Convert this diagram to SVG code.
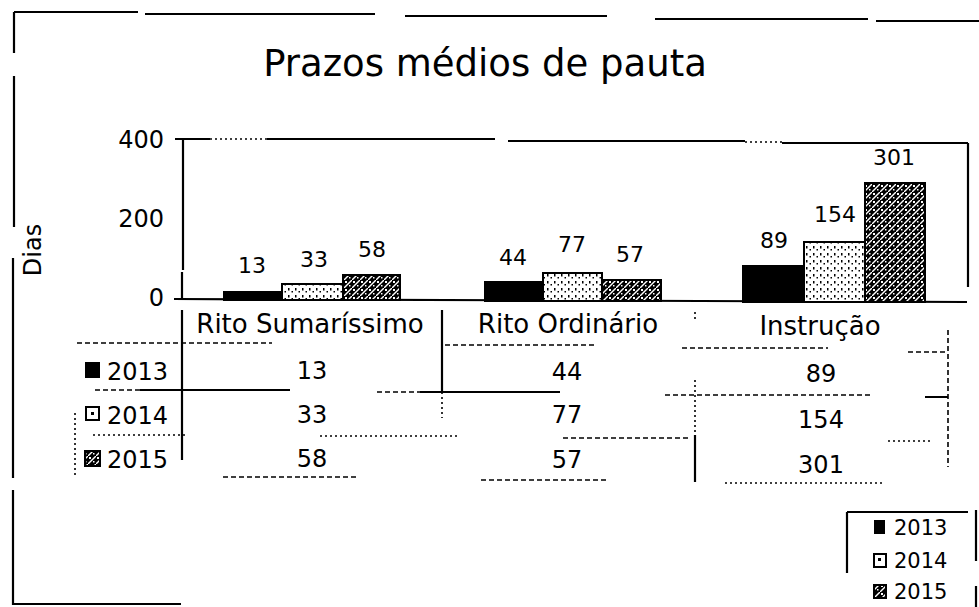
<svg xmlns="http://www.w3.org/2000/svg" width="979" height="607" viewBox="0 0 979 607">
<style>
text{font-family:"DejaVu Sans","Verdana",sans-serif;fill:#000}
.t{font-size:37px}
.ax{font-size:24px;text-anchor:end}
.v{font-size:22px;text-anchor:middle}
.h{font-size:26px;text-anchor:middle}
.c{font-size:24px;text-anchor:middle}
.r{font-size:24px}
.lg{font-size:21px}
.s{stroke:#000;stroke-width:2.2;fill:none}
.d{stroke:#000;stroke-width:1.6;fill:none;stroke-dasharray:5 3}
.o{stroke:#000;stroke-width:1.6;fill:none;stroke-dasharray:2 3}
.b13{fill:#000;stroke:#000;stroke-width:2}
.b14{fill:url(#p14);stroke:#000;stroke-width:2}
.b15{fill:url(#p15);stroke:#000;stroke-width:2}
</style>
<defs>
<pattern id="p14" width="7" height="7" patternUnits="userSpaceOnUse">
<rect width="7" height="7" fill="#fff"/>
<rect x="1" y="1" width="1.5" height="2.5" fill="#000"/>
<rect x="4.5" y="4" width="1.5" height="1.5" fill="#000"/>
</pattern>
<pattern id="p15" width="8" height="8" patternUnits="userSpaceOnUse">
<rect width="8" height="8" fill="#000"/>
<path d="M0 8 L8 0" stroke="#fff" stroke-width="1.4"/>
<rect x="1" y="1" width="2" height="2" fill="#fff"/>
<rect x="5" y="5" width="1.5" height="1.5" fill="#fff"/>
</pattern>
</defs>
<rect width="979" height="607" fill="#fff"/>

<g id="frame">
<path class="s" d="M14 12 H138 M145 14 H375 M405 16 H607 M655 19 H868 M876 21 H979"/>
<path class="s" d="M14 12 V53 M14 76 V227 M13 258 V478 M13 490 V605 M13 604 H181"/>
</g>

<text class="t" x="485" y="76" text-anchor="middle">Prazos médios de pauta</text>

<g id="axes">
<path class="s" d="M183 139 H210 M267 139 H495 M508 141 H745 M782 143 H968 M968 143 V287"/>
<path class="o" d="M210 139 H267 M745 142 H782"/>
<path class="s" d="M175 139 H183 M183 139 V270 M182 272 V300 M174 299 L967 302"/>
<text class="ax" x="164" y="148">400</text>
<text class="ax" x="164" y="227">200</text>
<text class="ax" x="164" y="306">0</text>
<text class="r" transform="translate(41 250) rotate(-90)" text-anchor="middle">Dias</text>
</g>

<g id="bars">
<rect class="b13" x="224" y="292" width="58" height="8"/>
<rect class="b14" x="282" y="284" width="61" height="16"/>
<rect class="b15" x="343" y="275" width="57" height="25"/>
<rect class="b13" x="485" y="282" width="58" height="19"/>
<rect class="b14" x="543" y="273" width="59" height="28"/>
<rect class="b15" x="602" y="280" width="59" height="21"/>
<rect class="b13" x="743" y="266" width="61" height="36"/>
<rect class="b14" x="804" y="242" width="61" height="60"/>
<rect class="b15" x="865" y="183" width="60" height="119"/>
</g>

<g id="values">
<text class="v" x="252" y="273">13</text>
<text class="v" x="314" y="267">33</text>
<text class="v" x="372" y="257">58</text>
<text class="v" x="513" y="265">44</text>
<text class="v" x="572" y="252">77</text>
<text class="v" x="630" y="262">57</text>
<text class="v" x="774" y="248">89</text>
<text class="v" x="835" y="222">154</text>
<text class="v" x="894" y="165">301</text>
</g>

<g id="table">
<path class="s" d="M182 310 V460 M442 310 V392 M695 435 V482 M140 390 H290 M420 392 H560 M925 397 H948"/>
<path class="o" d="M442 392 V418 M695 312 V322 M695 380 V435 M75 413 V475"/>
<path class="d" d="M948 330 V467"/>
<path class="d" d="M77 343 H272 M445 345 H595 M682 348 H828 M908 352 H948"/>
<path class="d" d="M95 390 H140 M377 392 H420 M665 395 H870"/>
<path class="o" d="M93 435 H187 M320 436 H458 M888 441 H930 M725 483 H884"/>
<path class="d" d="M563 438 H688 M223 477 H357 M481 480 H609"/>
<text class="h" x="310" y="333">Rito Sumaríssimo</text>
<text class="h" x="568" y="333">Rito Ordinário</text>
<text class="h" x="820" y="335">Instrução</text>
<rect x="85" y="362" width="15" height="16" fill="#000"/>
<text class="r" x="107" y="380">2013</text>
<rect x="86" y="407" width="13" height="13" fill="#fff" stroke="#000" stroke-width="2"/>
<rect x="91" y="412" width="3" height="3" fill="#000"/>
<text class="r" x="107" y="424">2014</text>
<rect x="85" y="451" width="15" height="15" fill="url(#p15)" stroke="#000" stroke-width="2"/>
<text class="r" x="107" y="468">2015</text>
<text class="c" x="312" y="379">13</text>
<text class="c" x="312" y="423">33</text>
<text class="c" x="312" y="467">58</text>
<text class="c" x="567" y="380">44</text>
<text class="c" x="567" y="423">77</text>
<text class="c" x="567" y="468">57</text>
<text class="c" x="821" y="382">89</text>
<text class="c" x="821" y="428">154</text>
<text class="c" x="821" y="473">301</text>
</g>

<g id="legend">
<path class="s" d="M847 512 H968 M847 512 V573 M976 510 V561 M976 586 V607"/>
<rect x="874" y="520" width="11" height="14" fill="#000"/>
<text class="lg" x="894" y="535">2013</text>
<rect x="874" y="554" width="12" height="13" fill="#fff" stroke="#000" stroke-width="2"/>
<rect x="878" y="558" width="3" height="3" fill="#000"/>
<text class="lg" x="894" y="568">2014</text>
<rect x="874" y="585" width="12" height="13" fill="url(#p15)" stroke="#000" stroke-width="2"/>
<text class="lg" x="894" y="599">2015</text>
</g>
</svg>
